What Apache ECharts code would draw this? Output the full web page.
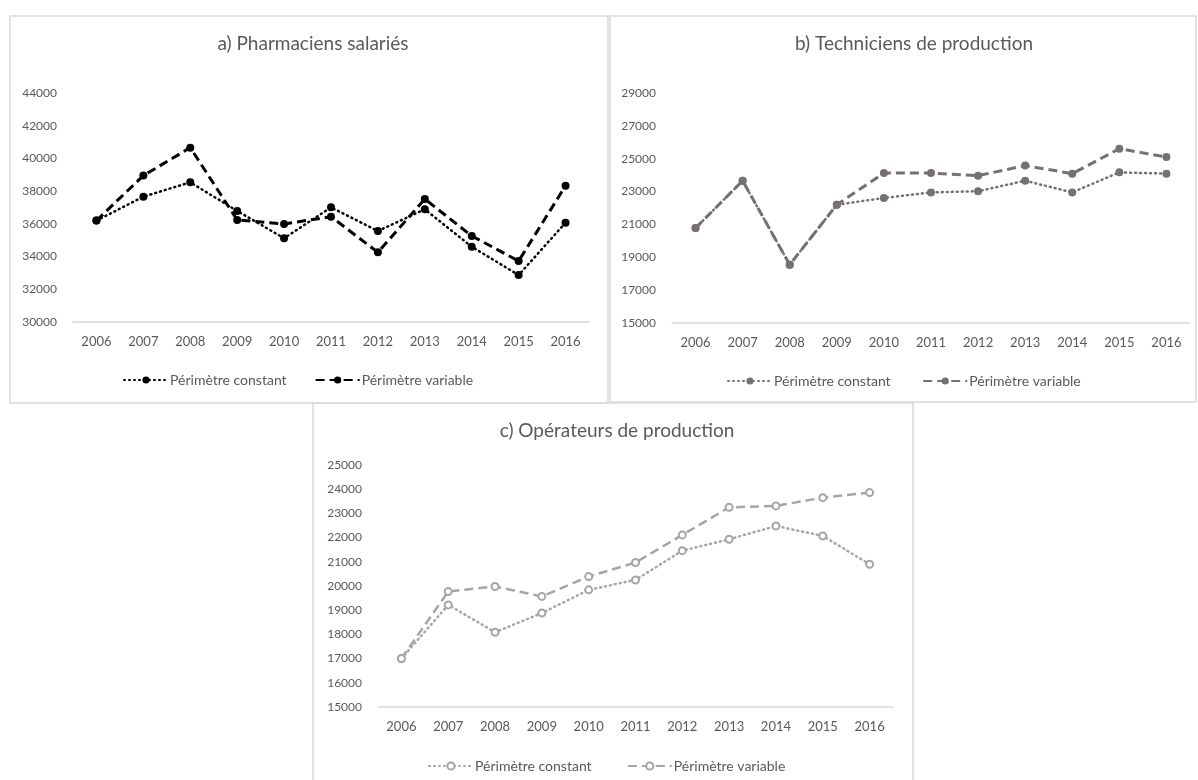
<!DOCTYPE html>
<html>
<head>
<meta charset="utf-8">
<title>Salaires</title>
<script src="https://cdn.jsdelivr.net/npm/echarts@6/dist/echarts.min.js"></script>
<style>
  html, body { margin: 0; padding: 0; background: #fff; }
  #main { width: 1198px; height: 780px; }
</style>
</head>
<body>
<div id="main"></div>
<script>
// années (axe des catégories)
const years = ['2006', '2007', '2008', '2009', '2010', '2011', '2012', '2013', '2014', '2015', '2016']

// a) Pharmaciens salariés
const pharmaConstant = [36200, 37660, 38540, 36790, 35120, 37010, 35560, 36890, 34600, 32870, 36070]
const pharmaVariable = [36200, 38950, 40660, 36240, 35990, 36440, 34260, 37520, 35260, 33730, 38330]

// b) Techniciens de production
const techConstant = [20780, 23660, 18550, 22200, 22610, 22950, 23020, 23660, 22950, 24170, 24090]
const techVariable = [20780, 23660, 18550, 22200, 24130, 24130, 23970, 24580, 24090, 25610, 25100]

// c) Opérateurs de production
const operConstant = [17000, 19220, 18090, 18880, 19840, 20250, 21460, 21930, 22480, 22070, 20900]
const operVariable = [17000, 19770, 19980, 19570, 20390, 20970, 22110, 23250, 23310, 23650, 23860]

const labelConstant = 'Périmètre constant'
const labelVariable = 'Périmètre variable'

const fontName = 'Lato'
const textGrey = '#595959'
const axisGrey = '#d9d9d9'

const chartInstance = echarts.init(document.getElementById('main'), null, { renderer: 'canvas' })

// un cadre gris clair autour de chaque panneau
function frame(x, y, w, h) {
  return {
    type: 'rect',
    shape: { x: x, y: y, width: w, height: h },
    style: { fill: 'transparent', stroke: axisGrey, lineWidth: 1.5 },
    silent: true
  }
}

function makeTitle(text, cx, top) {
  return {
    text: text,
    left: cx,
    top: top,
    textAlign: 'center',
    textStyle: { fontFamily: fontName, fontSize: 19, fontWeight: 'normal', color: textGrey }
  }
}

function makeLegend(left, top, names) {
  return {
    left: left,
    top: top,
    itemWidth: 44,
    itemHeight: 9,
    itemGap: 28,
    data: names,
    textStyle: { fontFamily: fontName, fontSize: 14, color: textGrey, padding: [0, 0, 0, -3] }
  }
}

function makeXAxis(gridIndex) {
  return {
    type: 'category',
    gridIndex: gridIndex,
    data: years,
    boundaryGap: true,
    axisLine: { lineStyle: { color: axisGrey, width: 1.5 } },
    axisTick: { show: false },
    axisLabel: { color: textGrey, fontFamily: fontName, fontSize: 13, margin: 13 },
    splitLine: { show: false }
  }
}

function makeYAxis(gridIndex, min, max, interval, step) {
  return {
    type: 'value',
    gridIndex: gridIndex,
    min: min,
    max: max,
    interval: interval,
    axisLine: { show: false },
    axisTick: { show: false },
    splitLine: { show: false },
    axisLabel: {
      color: textGrey,
      fontFamily: fontName,
      fontSize: 12,
      margin: 16,
      // pas de séparateur de milliers, et un libellé tous les "step"
      formatter: (v) => ((v - min) % step === 0 ? String(v) : '')
    }
  }
}

// série en pointillés (constant) ou tirets (variable)
function makeSeries(name, data, axisIdx, color, dotted, hollow) {
  return {
    name: name,
    type: 'line',
    xAxisIndex: axisIdx,
    yAxisIndex: axisIdx,
    data: data,
    symbol: hollow ? 'emptyCircle' : 'circle',
    symbolSize: hollow ? 7 : 8,
    showAllSymbol: true,
    animation: false,
    itemStyle: { color: color, borderColor: color, borderWidth: hollow ? 1.5 : 0 },
    lineStyle: dotted
      ? { color: color, width: 2.5, type: [1, 4], cap: 'round' }
      : { color: color, width: hollow ? 2.5 : 3, type: [9, 5] },
    z: dotted ? 3 : 2
  }
}

const colorA = '#000000'
const colorB = '#767171'
const colorC = '#a5a5a5'

const option = {
  backgroundColor: '#ffffff',
  animation: false,
  graphic: [
    frame(10, 16, 598, 387),
    frame(610, 16, 586, 386),
    frame(313, 403, 600, 390)
  ],
  title: [
    makeTitle('a) Pharmaciens salariés', 308, 29),
    makeTitle('b) Techniciens de production', 909, 29),
    makeTitle('c) Opérateurs de production', 612, 416)
  ],
  legend: [
    makeLegend(118, 368, [labelConstant, labelVariable]),
    makeLegend(722, 369, [labelConstant + ' ', labelVariable + ' ']),
    makeLegend(423, 754, [labelConstant + '  ', labelVariable + '  '])
  ],
  grid: [
    { left: 73, top: 93, width: 516, height: 229 },
    { left: 672, top: 93, width: 518, height: 230 },
    { left: 378, top: 465, width: 515, height: 242 }
  ],
  xAxis: [makeXAxis(0), makeXAxis(1), makeXAxis(2)],
  yAxis: [
    makeYAxis(0, 30000, 44000, 2000, 2000),
    // graduations tous les 2000 à partir de 15000
    makeYAxis(1, 15000, 29000, 1000, 2000),
    makeYAxis(2, 15000, 25000, 1000, 1000)
  ],
  series: [
    makeSeries(labelConstant, pharmaConstant, 0, colorA, true, false),
    makeSeries(labelVariable, pharmaVariable, 0, colorA, false, false),
    makeSeries(labelConstant + ' ', techConstant, 1, colorB, true, false),
    makeSeries(labelVariable + ' ', techVariable, 1, colorB, false, false),
    makeSeries(labelConstant + '  ', operConstant, 2, colorC, true, true),
    makeSeries(labelVariable + '  ', operVariable, 2, colorC, false, true)
  ]
}

chartInstance.setOption(option)
</script>
</body>
</html>
